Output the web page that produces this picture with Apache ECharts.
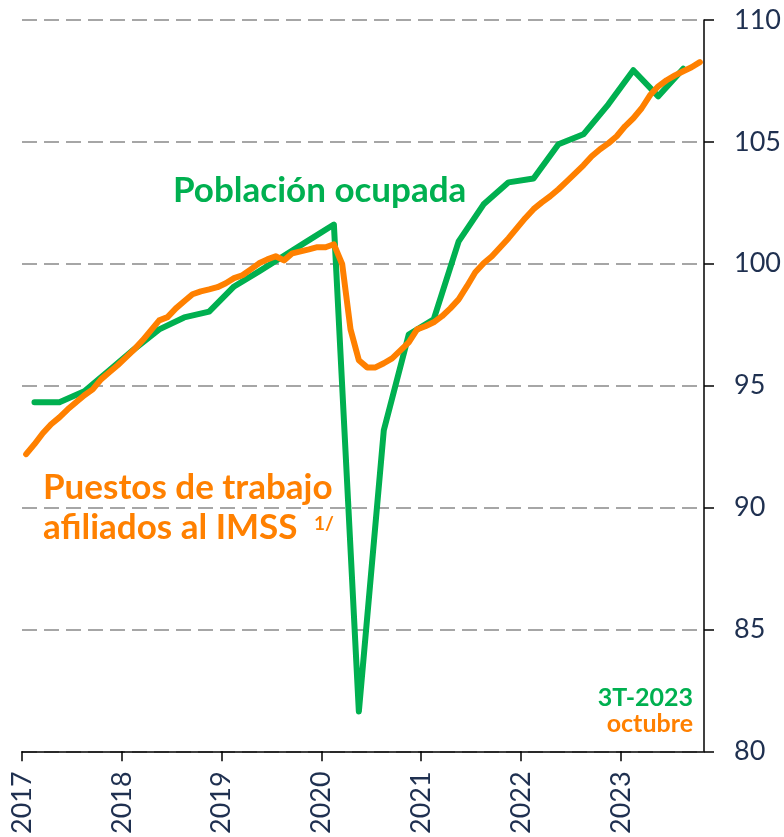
<!DOCTYPE html>
<html>
<head>
<meta charset="utf-8">
<script src="https://cdn.jsdelivr.net/npm/echarts@6/dist/echarts.min.js"></script>
<style>
html,body{margin:0;padding:0;background:#fff;}
#chart{width:784px;height:837px;}
</style>
</head>
<body>
<div id="chart"></div>
<script>
// Tick labels (years)
const years = [2017, 2018, 2019, 2020, 2021, 2022, 2023];

// Población ocupada (quarterly, 1T-2017 .. 3T-2023)
const quarterStartYear = 2017;
const poblacionOcupada = [
  94.32, 94.32, 94.77, 95.63,
  96.50, 97.31, 97.80, 98.04,
  99.07, 99.69, 100.33, 100.97,
  101.61, 81.64, 93.17, 97.10,
  97.72, 100.92, 102.44, 103.34,
  103.50, 104.90, 105.31, 106.54,
  107.94, 106.87, 108.00
];

// Puestos de trabajo afiliados al IMSS (monthly, ene-2017 .. oct-2023)
const monthStartYear = 2017;
const puestosIMSS = [
  92.19, 92.60, 93.05, 93.42, 93.70, 94.03, 94.32, 94.61, 94.85, 95.26, 95.55, 95.84,
  96.16, 96.49, 96.86, 97.27, 97.68, 97.81, 98.17, 98.46, 98.75, 98.87, 98.95, 99.04,
  99.20, 99.41, 99.53, 99.77, 100.02, 100.18, 100.31, 100.14, 100.43, 100.51, 100.59, 100.68,
  100.68, 100.80, 99.98, 97.31, 96.04, 95.75, 95.75, 95.92, 96.12, 96.45, 96.78, 97.31,
  97.44, 97.60, 97.85, 98.17, 98.54, 99.08, 99.65, 100.02, 100.31, 100.68, 101.05, 101.46,
  101.87, 102.24, 102.52, 102.77, 103.06, 103.38, 103.71, 104.04, 104.41, 104.70, 104.94, 105.23,
  105.64, 105.97, 106.38, 106.91, 107.28, 107.53, 107.73, 107.90, 108.06, 108.27
];

// Y axis
const yMin = 80, yMax = 110, yStep = 5;

// Build [x, y] pairs (x = decimal year at middle of the period)
const greenData = poblacionOcupada.map((v, i) => [quarterStartYear + (i + 0.5) / 4, v]);
const orangeData = puestosIMSS.map((v, i) => [monthStartYear + (i + 0.5) / 12, v]);

const GREEN = '#00b050';
const ORANGE = '#ff8000';
const NAVY = '#1f3050';
const FONT = 'Lato';

const chart = echarts.init(document.getElementById('chart'), null, {renderer: 'canvas'});
chart.setOption({
  animation: false,
  backgroundColor: '#ffffff',
  grid: {left: 22, right: 79, top: 20, bottom: 85, containLabel: false},
  xAxis: {
    type: 'value',
    min: years[0],
    max: 2023 + 10 / 12,
    interval: 1,
    axisLine: {show: true, lineStyle: {color: '#000', width: 1.5}},
    axisTick: {show: true, length: 10, lineStyle: {color: '#000', width: 1.5}, customValues: years},
    axisLabel: {
      rotate: 90, margin: 20, color: NAVY, fontFamily: FONT, fontSize: 27,
      customValues: years,
      formatter: v => (Number.isInteger(v) ? String(v) : '')
    },
    splitLine: {show: false}
  },
  yAxis: {
    type: 'value',
    position: 'right',
    min: yMin, max: yMax, interval: yStep,
    axisLine: {show: true, lineStyle: {color: '#000', width: 1.5}},
    axisTick: {show: true, length: 10, lineStyle: {color: '#000', width: 1.5}},
    axisLabel: {margin: 30, color: NAVY, fontFamily: FONT, fontSize: 27},
    splitLine: {show: true, lineStyle: {color: '#a6a6a6', width: 2, type: [15, 7]}}
  },
  series: [
    {
      name: 'Población ocupada', type: 'line', data: greenData, showSymbol: false,
      lineStyle: {color: GREEN, width: 6, cap: 'round', join: 'round'}, z: 2
    },
    {
      name: 'Puestos de trabajo afiliados al IMSS', type: 'line', data: orangeData, showSymbol: false,
      lineStyle: {color: ORANGE, width: 6, cap: 'round', join: 'round'}, z: 3
    }
  ],
  graphic: [
    {type: 'text', left: 173, top: 173, z: 10, style: {text: 'Población ocupada', fill: GREEN, font: 'bold 35px ' + FONT}},
    {type: 'text', left: 43, top: 470, z: 10, style: {text: 'Puestos de trabajo', fill: ORANGE, font: 'bold 35px ' + FONT}},
    {type: 'text', left: 43, top: 510, z: 10, style: {text: 'afiliados al IMSS', fill: ORANGE, font: 'bold 35px ' + FONT}},
    {type: 'text', left: 314, top: 514, z: 10, style: {text: '1/', fill: ORANGE, font: 'bold 19px ' + FONT}},
    {type: 'text', right: 91, top: 685, z: 10, style: {text: '3T-2023', fill: GREEN, font: 'bold 25px ' + FONT}},
    {type: 'text', right: 91, top: 711, z: 10, style: {text: 'octubre', fill: ORANGE, font: 'bold 25px ' + FONT}}
  ]
});
</script>
</body>
</html>
